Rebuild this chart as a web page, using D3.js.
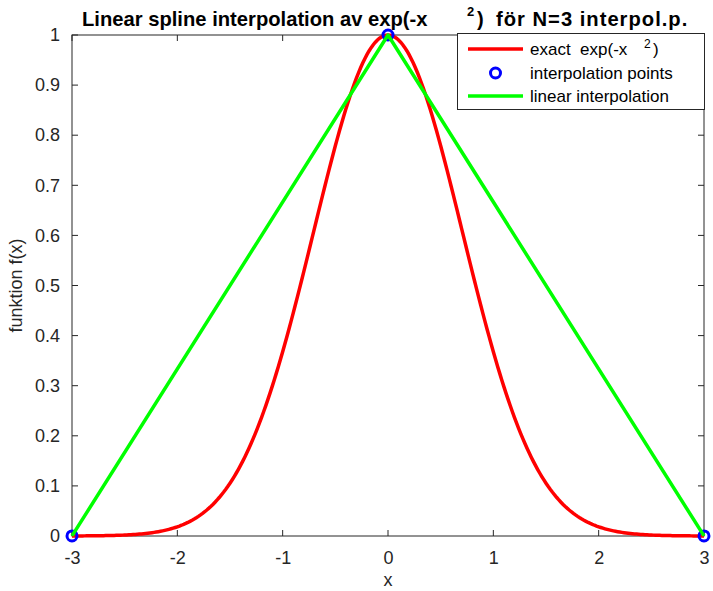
<!DOCTYPE html>
<html lang="sv">
<head>
<meta charset="UTF-8">
<title>Linear spline interpolation</title>
<style>
  body { margin: 0; background: #fff; }
  svg { display: block; }
  text { font-family: "Liberation Sans", Arial, sans-serif; fill: #262626; white-space: pre; }
</style>
</head>
<body>
<svg width="713" height="591"></svg>
<script src="https://d3js.org/d3.v7.min.js"></script>
<script>
// data
const xTicks = [-3, -2, -1, 0, 1, 2, 3];
const yTicks = [0, 0.1, 0.2, 0.3, 0.4, 0.5, 0.6, 0.7, 0.8, 0.9, 1];
const nodeX = [-3, 0, 3];
const nodeY = [0.0001234, 1, 0.0001234];
// exact curve samples of exp(-x^2)
const exactX = d3.range(-3, 3.0001, 0.02);
const exactY = exactX.map(x => Math.exp(-x * x));

const svg = d3.select("svg");
const mLeft = 72, mRight = 704, mTop = 35, mBottom = 536;

const x = d3.scaleLinear().domain([-3, 3]).range([mLeft, mRight]);
const y = d3.scaleLinear().domain([0, 1]).range([mBottom, mTop]);

const axisColor = "#262626";
const tick = 6;

// x axis + ticks
svg.append("g")
  .attr("transform", `translate(0,${mBottom})`)
  .call(d3.axisBottom(x).tickValues(xTicks).tickSize(0).tickPadding(15).tickFormat(d => String(d)))
  .call(g => g.select(".domain").remove())
  .call(g => g.selectAll("text").attr("font-size", 18).attr("fill", axisColor)
    .attr("font-family", "Liberation Sans, Arial, sans-serif"));

svg.append("g")
  .attr("transform", `translate(${mLeft},0)`)
  .call(d3.axisLeft(y).tickValues(yTicks).tickSize(0).tickPadding(12).tickFormat(d => String(+d.toFixed(1))))
  .call(g => g.select(".domain").remove())
  .call(g => g.selectAll("text").attr("font-size", 18).attr("fill", axisColor)
    .attr("font-family", "Liberation Sans, Arial, sans-serif"));

// inward tick marks on all four sides
const ticks = svg.append("g").attr("stroke", axisColor).attr("stroke-width", 1);
xTicks.forEach(v => {
  ticks.append("line").attr("x1", x(v)).attr("x2", x(v)).attr("y1", mBottom).attr("y2", mBottom - tick);
  ticks.append("line").attr("x1", x(v)).attr("x2", x(v)).attr("y1", mTop).attr("y2", mTop + tick);
});
yTicks.forEach(v => {
  ticks.append("line").attr("x1", mLeft).attr("x2", mLeft + tick).attr("y1", y(v)).attr("y2", y(v));
  ticks.append("line").attr("x1", mRight).attr("x2", mRight - tick).attr("y1", y(v)).attr("y2", y(v));
});

// box
svg.append("rect")
  .attr("x", mLeft).attr("y", mTop)
  .attr("width", mRight - mLeft).attr("height", mBottom - mTop)
  .attr("fill", "none").attr("stroke", axisColor).attr("stroke-width", 1);

const plot = svg.append("g");

// exact curve
plot.append("path")
  .datum(exactX.map((v, i) => [v, exactY[i]]))
  .attr("fill", "none").attr("stroke", "#ff0000").attr("stroke-width", 3.5)
  .attr("d", d3.line().x(d => x(d[0])).y(d => y(d[1])));

// interpolation points
plot.selectAll("circle.pt")
  .data(nodeX.map((v, i) => [v, nodeY[i]]))
  .enter().append("circle")
  .attr("class", "pt")
  .attr("cx", d => x(d[0])).attr("cy", d => y(d[1]))
  .attr("r", 5).attr("fill", "none").attr("stroke", "#0000ff").attr("stroke-width", 3);

// linear interpolation
plot.append("path")
  .datum(nodeX.map((v, i) => [v, nodeY[i]]))
  .attr("fill", "none").attr("stroke", "#00ff00").attr("stroke-width", 3.5)
  .attr("stroke-linejoin", "round")
  .attr("d", d3.line().x(d => x(d[0])).y(d => y(d[1])));

// title
const title = svg.append("text")
  .attr("x", 82).attr("y", 26)
  .attr("font-size", 20.2).attr("font-weight", "bold").style("fill", "#000");
title.append("tspan").text("Linear spline interpolation av exp(-x");
title.append("tspan").attr("x", 467).attr("y", 16).attr("font-size", 13).text("2");
title.append("tspan").attr("x", 477).attr("y", 26).text(")");
title.append("tspan").attr("x", 496).attr("y", 26).attr("letter-spacing", 1).text("för N=3 interpol.p.");

// axis labels
svg.append("text")
  .attr("x", (mLeft + mRight) / 2).attr("y", 586)
  .attr("text-anchor", "middle").attr("font-size", 18).text("x");

svg.append("text")
  .attr("transform", `translate(22,${(mTop + mBottom) / 2}) rotate(-90)`)
  .attr("text-anchor", "middle").attr("font-size", 18).text("funktion f(x)");

// legend
const lg = svg.append("g");
lg.append("rect")
  .attr("x", 457.5).attr("y", 33.5).attr("width", 247).attr("height", 76)
  .attr("fill", "#fff").attr("stroke", axisColor).attr("stroke-width", 1);

const rows = [49, 73, 96];
lg.append("line").attr("x1", 468).attr("x2", 523).attr("y1", rows[0]).attr("y2", rows[0])
  .attr("stroke", "#ff0000").attr("stroke-width", 3.5);
lg.append("circle").attr("cx", 495.5).attr("cy", rows[1]).attr("r", 5)
  .attr("fill", "none").attr("stroke", "#0000ff").attr("stroke-width", 3);
lg.append("line").attr("x1", 468).attr("x2", 523).attr("y1", rows[2]).attr("y2", rows[2])
  .attr("stroke", "#00ff00").attr("stroke-width", 3.5);

const t1 = lg.append("text").attr("x", 530).attr("y", rows[0] + 6).attr("font-size", 17).style("fill", "#000");
t1.append("tspan").text("exact  exp(-x");
t1.append("tspan").attr("x", 644).attr("y", rows[0] - 1).attr("font-size", 12).text("2");
t1.append("tspan").attr("x", 653).attr("y", rows[0] + 6).text(")");
lg.append("text").attr("x", 530).attr("y", rows[1] + 6).attr("font-size", 17).style("fill", "#000")
  .text("interpolation points");
lg.append("text").attr("x", 530).attr("y", rows[2] + 6).attr("font-size", 17).style("fill", "#000")
  .text("linear interpolation");
</script>
</body>
</html>
